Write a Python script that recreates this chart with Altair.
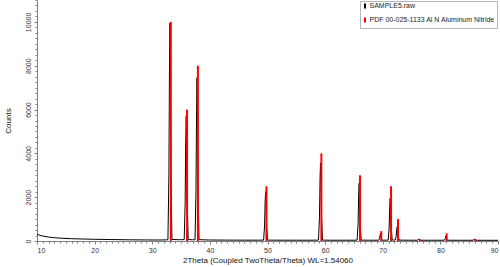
import altair as alt
import pandas as pd

sample_2theta = [10.0, 10.5, 11, 12, 13, 14, 16, 18, 20, 23, 26, 29, 31, 32.4,
                 32.72, 32.89, 32.99, 33.07, 33.15, 33.25, 33.42, 34.5,
                 35.54, 35.71, 35.81, 35.89, 35.97, 36.07, 36.24, 37.0,
                 37.42, 37.59, 37.69, 37.77, 37.85, 37.95, 38.12,
                 40, 43, 46, 48.5,
                 49.32, 49.49, 49.59, 49.67, 49.75, 49.85, 50.02,
                 52, 55, 58,
                 58.85, 59.02, 59.12, 59.20, 59.28, 59.38, 59.55,
                 61, 63.5, 65.2,
                 65.55, 65.72, 65.82, 65.90, 65.98, 66.08, 66.25,
                 67.5, 69.0,
                 69.30, 69.47, 69.60, 69.73, 69.90, 70.6,
                 70.94, 71.11, 71.21, 71.29, 71.37, 71.47, 71.64, 71.9,
                 72.15, 72.32, 72.42, 72.50, 72.58, 72.68, 72.85,
                 74.5, 76.05, 76.30, 76.55, 78.5,
                 80.7, 80.85, 80.95, 81.05, 81.2,
                 83.5, 85.7, 85.9, 86.1, 88, 90]
sample_counts = [310, 260, 225, 180, 150, 130, 105, 90, 78, 65, 55, 48, 45, 50,
                 60, 2990, 7960, 9950, 7960, 2990, 70, 60,
                 60, 1710, 4560, 5700, 4560, 1710, 65, 55,
                 60, 2240, 5960, 7450, 5960, 2240, 60,
                 45, 40, 38, 38,
                 40, 680, 1800, 2250, 1800, 680, 40,
                 37, 36, 36,
                 40, 1070, 2840, 3550, 2840, 1070, 40,
                 35, 35, 36,
                 40, 790, 2100, 2630, 2100, 790, 40,
                 35, 36,
                 38, 130, 350, 130, 38, 38,
                 42, 590, 1560, 1950, 1560, 590, 45, 42,
                 42, 200, 520, 650, 520, 200, 40,
                 35, 35, 90, 35, 34,
                 35, 100, 230, 100, 35,
                 33, 34, 90, 34, 32, 32]

# Reference sticks (PDF 00-025-1133 Al N)
pdf_2theta = [33.22, 36.04, 37.92, 49.82, 59.35, 66.05, 69.74, 71.44, 72.65, 76.44, 81.09, 86.05]
pdf_counts = [10000, 6000, 8000, 2500, 4000, 3000, 450, 2500, 1000, 80, 350, 100]

series_names = ["SAMPLE5.raw", "PDF 00-025-1133 Al N Aluminum Nitride"]
series_colors = ["#000000", "#ff0000"]

x_major = [10, 20, 30, 40, 50, 60, 70, 80, 90]
x_minor = list(range(10, 91))
y_major = [0, 2000, 4000, 6000, 8000, 10000]
y_minor = list(range(0, 11001, 250))

df_line = pd.DataFrame({"tt": sample_2theta, "counts": sample_counts, "series": series_names[0]})
df_pdf = pd.DataFrame({"tt": pdf_2theta, "counts": pdf_counts, "zero": 0, "series": series_names[1]})
df_minor = pd.DataFrame({"tt": [50], "counts": [5000]})

FONT = "Liberation Sans"
xs = alt.Scale(domain=[10, 90], nice=False, zero=False)
ys = alt.Scale(domain=[0, 11000], nice=False)
color = alt.Color(
    "series:N",
    scale=alt.Scale(domain=series_names, range=series_colors),
    sort=series_names,
    legend=alt.Legend(
        orient="none", legendX=323, legendY=1, title=None,
        symbolType="M0,-1L0,1", symbolSize=25, symbolStrokeWidth=2,
        labelFontSize=7, labelFont=FONT, labelColor="#222", labelOffset=1,
        rowPadding=1, padding=1.5, strokeColor="#b8b8b8", fillColor="white",
        cornerRadius=0, labelLimit=300,
    ),
)

x_axis = alt.Axis(values=x_major, title="2Theta (Coupled TwoTheta/Theta) WL=1.54060",
                  grid=False, tickSize=3, labelFontSize=7, labelPadding=2,
                  titleFontSize=8, titleFontWeight="normal", titlePadding=3,
                  orient="bottom", format="d")
y_axis = alt.Axis(values=y_major, title="Counts", grid=False, tickSize=3,
                  labelFontSize=7, labelAngle=270, labelAlign="center",
                  labelBaseline="bottom", labelPadding=3, format="d",
                  titleFontSize=8, titleFontWeight="normal", titlePadding=12,
                  orient="left")

line = alt.Chart(df_line).mark_line(strokeWidth=1).encode(
    x=alt.X("tt:Q", scale=xs, axis=x_axis),
    y=alt.Y("counts:Q", scale=ys, axis=y_axis),
    color=color,
)

sticks = alt.Chart(df_pdf).mark_rule(strokeWidth=2).encode(
    x=alt.X("tt:Q", scale=xs, axis=x_axis),
    y=alt.Y("zero:Q", scale=ys, axis=y_axis),
    y2="counts:Q",
    color=color,
)

main = alt.layer(line, sticks)

minor = alt.Chart(df_minor).mark_point(opacity=0).encode(
    x=alt.X("tt:Q", scale=xs, axis=alt.Axis(values=x_minor, labels=False, title=None,
                                            grid=False, domain=False, tickSize=2,
                                            orient="bottom")),
    y=alt.Y("counts:Q", scale=ys, axis=alt.Axis(values=y_minor, labels=False, title=None,
                                                grid=False, domain=False, tickSize=2,
                                                orient="left")),
)

chart = alt.layer(main, minor).resolve_axis(x="independent", y="independent").resolve_scale(
    x="shared", y="shared"
).properties(
    width=461, height=241,
    autosize=alt.AutoSizeParams(type="none"),
    padding={"left": 37, "top": 0, "right": 2, "bottom": 26},
).configure_view(stroke=None).configure_axis(
    labelFont=FONT, titleFont=FONT, domainColor="#808080", tickColor="#808080",
    labelColor="#333333", titleColor="#111111",
).configure_legend(labelFont=FONT)

chart.save("out.html", embed_options={"renderer": "svg", "actions": False})
